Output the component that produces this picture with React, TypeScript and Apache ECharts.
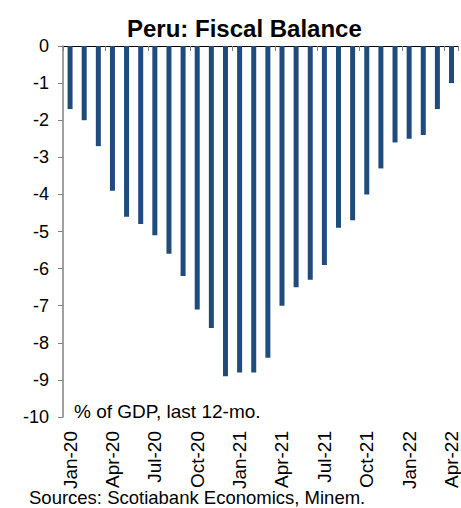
import React, { useEffect, useRef } from "react";
import * as echarts from "echarts";

// Monthly periods, Jan-20 through Apr-22
const months = [
  "Jan-20", "Feb-20", "Mar-20", "Apr-20", "May-20", "Jun-20", "Jul-20", "Aug-20", "Sep-20", "Oct-20", "Nov-20", "Dec-20",
  "Jan-21", "Feb-21", "Mar-21", "Apr-21", "May-21", "Jun-21", "Jul-21", "Aug-21", "Sep-21", "Oct-21", "Nov-21", "Dec-21",
  "Jan-22", "Feb-22", "Mar-22", "Apr-22",
];

// Fiscal balance, % of GDP, rolling 12 months
const fiscalBalance = [
  -1.7, -2.0, -2.7, -3.9, -4.6, -4.8, -5.1, -5.6, -6.2, -7.1, -7.6, -8.9,
  -8.8, -8.8, -8.4, -7.0, -6.5, -6.3, -5.9, -4.9, -4.7, -4.0, -3.3, -2.6,
  -2.5, -2.4, -1.7, -1.0,
];

const FONT = "'Liberation Sans', Arial, sans-serif";

export default function App() {
  const ref = useRef<HTMLDivElement>(null);

  useEffect(() => {
    if (!ref.current) return;
    const chart = echarts.init(ref.current, null, { renderer: "svg" });
    chart.setOption({
      animation: false,
      backgroundColor: "#ffffff",
      title: {
        text: "Peru: Fiscal Balance",
        left: 122,
        top: 11,
        textStyle: { fontFamily: FONT, fontSize: 24, fontWeight: "bold", color: "#000" },
      },
      grid: { left: 63, right: 1, top: 46, bottom: 91, containLabel: false },
      xAxis: [
        {
          type: "category",
          data: months,
          position: "bottom",
          axisLine: { show: false, onZero: false },
          axisTick: { show: false },
          axisLabel: {
            interval: 2,
            rotate: 90,
            margin: 14,
            fontFamily: FONT,
            fontSize: 19,
            color: "#000",
          },
        },
        {
          type: "category",
          data: months,
          position: "top",
          axisLine: { show: true, lineStyle: { color: "#000", width: 1 } },
          axisTick: { show: true, inside: true, length: 5, interval: 2, lineStyle: { color: "#808080" } },
          axisLabel: { show: false },
        },
      ],
      yAxis: {
        type: "value",
        min: -10,
        max: 0,
        interval: 1,
        splitLine: { show: false },
        axisLine: { show: true, lineStyle: { color: "#808080", width: 1.5 } },
        axisTick: { show: true, length: 5, lineStyle: { color: "#808080" } },
        axisLabel: { margin: 14, fontFamily: FONT, fontSize: 18, color: "#000" },
      },
      graphic: [
        {
          type: "text",
          left: 74,
          top: 402,
          style: { text: "% of GDP, last 12-mo.", font: `19px ${FONT}`, fill: "#000" },
        },
        {
          type: "text",
          left: 29,
          top: 488,
          style: { text: "Sources: Scotiabank Economics, Minem.", font: `18.5px ${FONT}`, fill: "#000" },
        },
      ],
      series: [
        {
          type: "bar",
          xAxisIndex: 0,
          data: fiscalBalance,
          barWidth: 5,
          itemStyle: { color: "#1f4b7d" },
        },
      ],
    });
    return () => chart.dispose();
  }, []);

  return (
    <div
      ref={ref}
      style={{ position: "fixed", left: 0, top: 0, width: 461, height: 508 }}
    />
  );
}
